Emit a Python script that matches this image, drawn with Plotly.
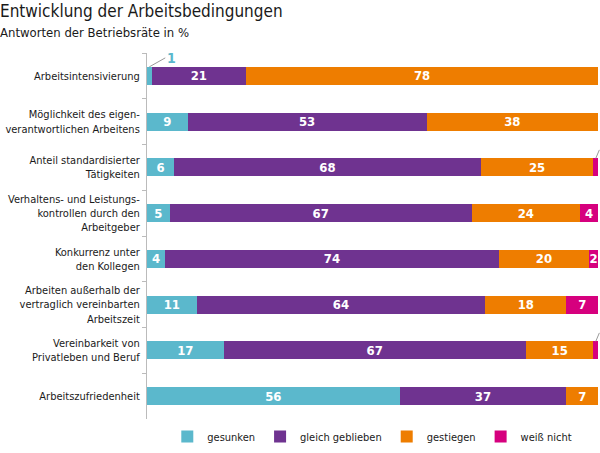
import plotly.graph_objects as go

categories = [
    "Arbeitsintensivierung",
    "Möglichkeit des eigen-<br>verantwortlichen Arbeitens",
    "Anteil standardisierter<br>Tätigkeiten",
    "Verhaltens- und Leistungs-<br>kontrollen durch den<br>Arbeitgeber",
    "Konkurrenz unter<br>den Kollegen",
    "Arbeiten außerhalb der<br>vertraglich vereinbarten<br>Arbeitszeit",
    "Vereinbarkeit von<br>Privatleben und Beruf",
    "Arbeitszufriedenheit",
]
gesunken = [1, 9, 6, 5, 4, 11, 17, 56]
gleich = [21, 53, 68, 67, 74, 64, 67, 37]
gestiegen = [78, 38, 25, 24, 20, 18, 15, 7]
weiss_nicht = [0, 0, 1, 4, 2, 7, 1, 0]

series = [
    ("gesunken", gesunken, "#5bb8cc"),
    ("gleich geblieben", gleich, "#6f3390"),
    ("gestiegen", gestiegen, "#ee7d00"),
    ("weiß nicht", weiss_nicht, "#d6007e"),
]

FONT = "DejaVu Sans Condensed, Liberation Sans Narrow, sans-serif"
TXT = "#1a1a1a"

fig = go.Figure()
for name, vals, color in series:
    fig.add_trace(go.Bar(
        y=categories, x=vals, name=name, orientation="h",
        marker=dict(color=color, line=dict(width=0)),
        text=[str(v) if v >= 2 else "" for v in vals],
        textposition="inside", insidetextanchor="middle", textangle=0,
        textfont=dict(color="white", size=13, family=FONT, weight="bold"),
        hoverinfo="skip",
    ))

# small-value callouts
fig.add_annotation(x=gesunken[0] / 2, y=categories[0], yshift=9, text="1",
                   showarrow=True, arrowhead=0, arrowwidth=1, arrowcolor="#999999",
                   ax=16, ay=-9, xanchor="left",
                   font=dict(color="#5bb8cc", size=14, family=FONT, weight="bold"))
for i in (2, 6):
    base = gesunken[i] + gleich[i] + gestiegen[i]
    fig.add_annotation(x=base + weiss_nicht[i] / 2, y=categories[i], yshift=9, text="",
                       showarrow=True, arrowhead=0, arrowwidth=1, arrowcolor="#999999",
                       ax=8, ay=-10)

fig.update_layout(
    width=600, height=453,
    barmode="stack", bargap=0.61,
    plot_bgcolor="white", paper_bgcolor="white",
    margin=dict(l=147, r=2, t=53, b=28),
    font=dict(family=FONT, color=TXT, size=11),
    showlegend=True,
    legend=dict(orientation="h", xanchor="left", x=0.045, yanchor="middle", y=-0.048,
                font=dict(size=11, family=FONT, color=TXT), traceorder="normal"),
    uniformtext=dict(minsize=13, mode="show"),
)
fig.add_annotation(text="Entwicklung der Arbeitsbedingungen", xref="paper", yref="paper",
                   x=-147 / 451, y=1 + 53 / 372, xanchor="left", yanchor="top",
                   xshift=-2, yshift=2,
                   showarrow=False, font=dict(size=17, family=FONT, color=TXT))
fig.add_annotation(text="Antworten der Betriebsräte in %", xref="paper", yref="paper",
                   x=-147 / 451, y=1 + (53 - 22) / 372, xanchor="left", yanchor="top",
                   xshift=-2,
                   showarrow=False, font=dict(size=13, family=FONT, color=TXT))

fig.update_xaxes(range=[0, 100], visible=False)
fig.update_yaxes(autorange="reversed", showline=True, linecolor="#bbbbbb", linewidth=1,
                 ticks="outside", tickson="boundaries", ticklen=4, tickcolor="#bbbbbb",
                 tickfont=dict(size=11, family=FONT, color=TXT), showgrid=False,
                 zeroline=False, automargin=False, ticklabelstandoff=4)

fig.write_html("out.html")
